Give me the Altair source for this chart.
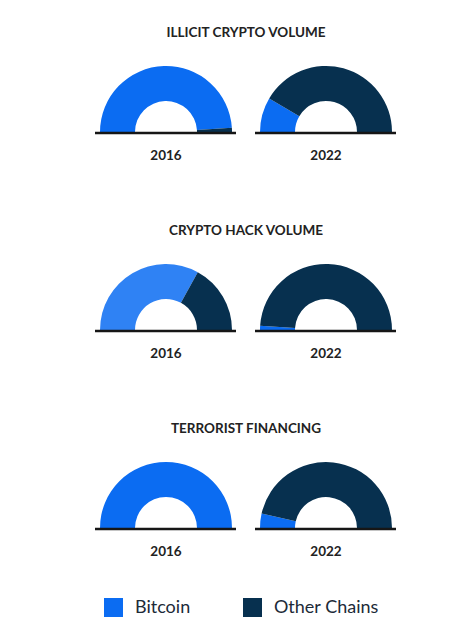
import math
import altair as alt
import pandas as pd

sections = ["ILLICIT CRYPTO VOLUME", "CRYPTO HACK VOLUME", "TERRORIST FINANCING"]
years = ["2016", "2022"]
series = ["Bitcoin", "Other Chains"]
bitcoin_share = [[98, 17], [66, 2], [100, 7]]
other_share = [[2, 83], [34, 98], [0, 93]]
colors = ["#0b6cf2", "#07304f"]

rows = []
for i, s in enumerate(sections):
    for j, y in enumerate(years):
        rows.append(dict(section=s, year=y, series=series[0], ord=0, share=bitcoin_share[i][j]))
        rows.append(dict(section=s, year=y, series=series[1], ord=1, share=other_share[i][j]))
df = pd.DataFrame(rows)

PW = 160
PH = 110
CY = 72
FONT = "Lato"

color = alt.Color(
    "series:N",
    scale=alt.Scale(domain=series, range=colors),
    legend=alt.Legend(title=None),
)


def panel(section, year):
    base = alt.Chart(df).transform_filter(
        (alt.datum.section == section) & (alt.datum.year == year)
    )
    arc = base.mark_arc(innerRadius=31, outerRadius=66).encode(
        theta=alt.Theta(
            "share:Q",
            stack=True,
            scale=alt.Scale(domain=[0, 100], range=[-math.pi / 2, math.pi / 2]),
        ),
        order=alt.Order("ord:Q", sort="ascending"),
        color=color,
        opacity=alt.condition(
            (alt.datum.section == "CRYPTO HACK VOLUME")
            & (alt.datum.year == "2016")
            & (alt.datum.series == "Bitcoin"),
            alt.value(0.85),
            alt.value(1),
        ),
        x=alt.value(PW / 2),
        y=alt.value(CY),
    )
    one = base.transform_filter(alt.datum.ord == 0)
    rule = one.mark_rule(color="#161616", strokeWidth=2.5).encode(
        x=alt.value(PW / 2 - 71), x2=alt.value(PW / 2 + 70), y=alt.value(CY + 1)
    )
    label = one.mark_text(
        font=FONT, fontSize=13.5, fontWeight="bold", color="#222222"
    ).encode(text="year:N", x=alt.value(PW / 2), y=alt.value(CY + 24))
    return alt.layer(arc, rule, label).properties(width=PW, height=PH)


row_charts = []
for s in sections:
    row_charts.append(
        alt.hconcat(
            panel(s, years[0]),
            panel(s, years[1]),
            spacing=0,
            title=alt.Title(
                s,
                anchor="middle",
                font=FONT,
                fontSize=13.5,
                fontWeight="bold",
                color="#222222",
                offset=21,
            ),
        )
    )

chart = (
    alt.vconcat(*row_charts, spacing=53)
    .properties(padding={"left": 78, "top": 17, "right": 10, "bottom": 10})
    .configure_view(stroke=None)
    .configure_legend(
        orient="none",
        legendX=18,
        legendY=538,
        direction="horizontal",
        symbolType="square",
        symbolSize=361,
        symbolStrokeWidth=0,
        symbolOpacity=1,
        labelFont=FONT,
        labelFontSize=18,
        labelColor="#1c2a38",
        labelOffset=12,
        columnPadding=52,
    )
)

chart.save("out.html", embed_options={"renderer": "svg", "actions": False})
